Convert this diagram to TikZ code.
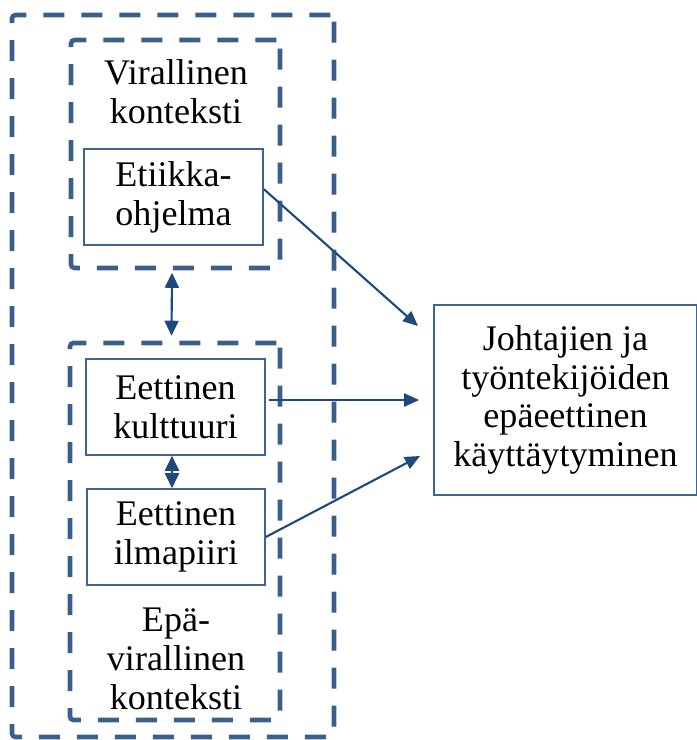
\documentclass[tikz,border=0pt]{standalone}
\usepackage{fontspec}
\setmainfont{Liberation Serif}
\usetikzlibrary{arrows.meta,calc}

\definecolor{ctxblue}{RGB}{58,95,140}
\definecolor{boxblue}{RGB}{62,100,148}
\definecolor{arrowblue}{RGB}{31,73,125}

\def \dashon {0.42cm}
\def \dashoff {0.34cm}

\tikzset{
  ctxbox/.style={draw=ctxblue, line width=2.6pt, dash pattern=on \dashon off \dashoff,
    rounded corners=2pt, inner sep=0pt},
  factorbox/.style={draw=boxblue, line width=0.9pt, minimum height=1.92cm, inner sep=0pt,
    align=center, font=\fontsize{20.5}{22}\selectfont},
  ctxlabel/.style={align=center, inner sep=0pt, font=\fontsize{20.5}{22}\selectfont},
  link/.style={draw=arrowblue, line width=1.2pt, -{Triangle[length=0.3cm,width=0.26cm]}},
  duallink/.style={link, {Triangle[length=0.3cm,width=0.28cm]}-{Triangle[length=0.3cm,width=0.28cm]}}
}

\begin{document}
\begin{tikzpicture}
\useasboundingbox (0,0) rectangle (13.94,-14.8);

% contexts
\node[ctxbox, minimum width=6.44cm, minimum height=14.44cm] (outer) at (3.46,-7.52) {};
\node[ctxbox, minimum width=4.18cm, minimum height=4.56cm] (formal) at (3.51,-3.08) {};
\node[ctxbox, minimum width=4.2cm, minimum height=7.54cm] (informal) at (3.5,-10.63) {};
\node[ctxlabel] (formallabel) at (3.52,-1.84) {Virallinen\\konteksti};
\node[ctxlabel] (informallabel) at (3.52,-13.18) {Epä-\\virallinen\\konteksti};

% factors
\node[factorbox, minimum width=3.58cm] (program) at (3.47,-3.94) {Etiikka-\\ohjelma};
\node[factorbox, minimum width=3.58cm] (culture) at (3.51,-8.14) {Eettinen\\kulttuuri};
\node[factorbox, minimum width=3.56cm] (climate) at (3.52,-10.74) {Eettinen\\ilmapiiri};

% outcome
\node[factorbox, minimum width=5.26cm, minimum height=3.8cm] (behaviour) at (11.31,-8.0)
  {Johtajien ja\\työntekijöiden\\epäeettinen\\käyttäytyminen};

\coordinate (in1) at (8.36,-6.52);
\coordinate (in3) at (8.4,-9.12);

% links
\draw[link] (program.5) -- (in1);
\draw[link] ([xshift=0.06cm]culture.east |- behaviour.west) -- ([xshift=-0.28cm]behaviour.west);
\draw[link] (climate.east) -- (in3);
\draw[duallink] ([xshift=-0.07cm,yshift=-0.05cm]formal.south) -- ([xshift=-0.07cm,yshift=0.1cm]informal.north);
\draw[duallink] ([xshift=-0.07cm]culture.south) -- ([xshift=-0.07cm]culture.south |- climate.north);
\end{tikzpicture}
\end{document}
